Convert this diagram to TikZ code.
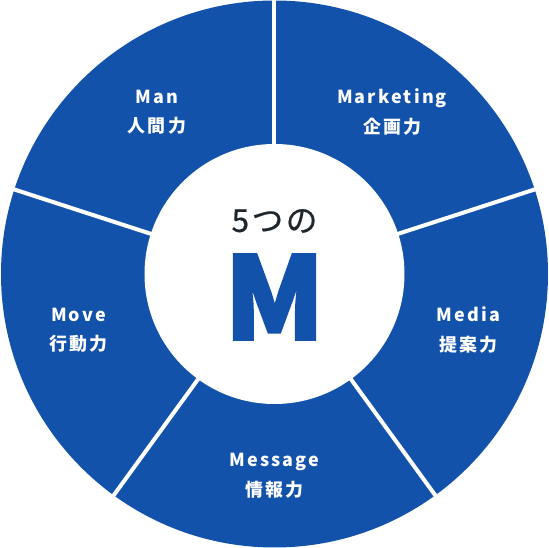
\documentclass[tikz,border=0pt]{standalone}
\usepackage{fontspec}
\newfontfamily\jpfont[LetterSpace=12]{Noto Sans CJK JP}
\newfontfamily\ttlfont[LetterSpace=8,FakeBold=0.6]{Noto Sans CJK JP}
\newfontfamily\bigfont[FakeBold=2.2]{Noto Sans CJK JP}
\usetikzlibrary{positioning,calc}
\definecolor{mblue}{HTML}{1352AA}
\definecolor{mdark}{HTML}{1F272D}

\begin{document}
\begin{tikzpicture}[
  x=0.02cm, y=0.02cm,
  seg/.style={draw=white, line width=4*0.02cm},
  lbl/.style={text=white, align=center, font=\jpfont\bfseries\fontsize{10.2}{17}\selectfont},
  ttl/.style={text=mdark, font=\ttlfont\fontsize{18}{20}\selectfont},
  bigm/.style={text=mblue, font=\bigfont\bfseries\fontsize{65}{65}\selectfont}
]
\useasboundingbox (0,0) rectangle (549,548);
\coordinate (c) at (274.5,274);
\fill[mblue] (c) circle (273.5);
% separators
\foreach \a in {90,162,234,306,18}
  \draw[seg] (c) -- ++(\a:280);
\fill[white] (c) circle (130);
% segment labels
\node[lbl] (man) at ($(c)+(126:200)$) {Man\\人間力};
\node[lbl] (mkt) at ($(c)+(54:200)$) {Marketing\\企画力};
\node[lbl] (med) at ($(c)+(-16:202)$) {Media\\提案力};
\node[lbl] (msg) at ($(c)+(270:202)$) {Message\\情報力};
\node[lbl] (mov) at ($(c)+(196:204)$) {Move\\行動力};
% center
\node[ttl] (five) at (274.5,327) {5つの};
\node[bigm] (m) at (274.5,251) {M};
\end{tikzpicture}
\end{document}
